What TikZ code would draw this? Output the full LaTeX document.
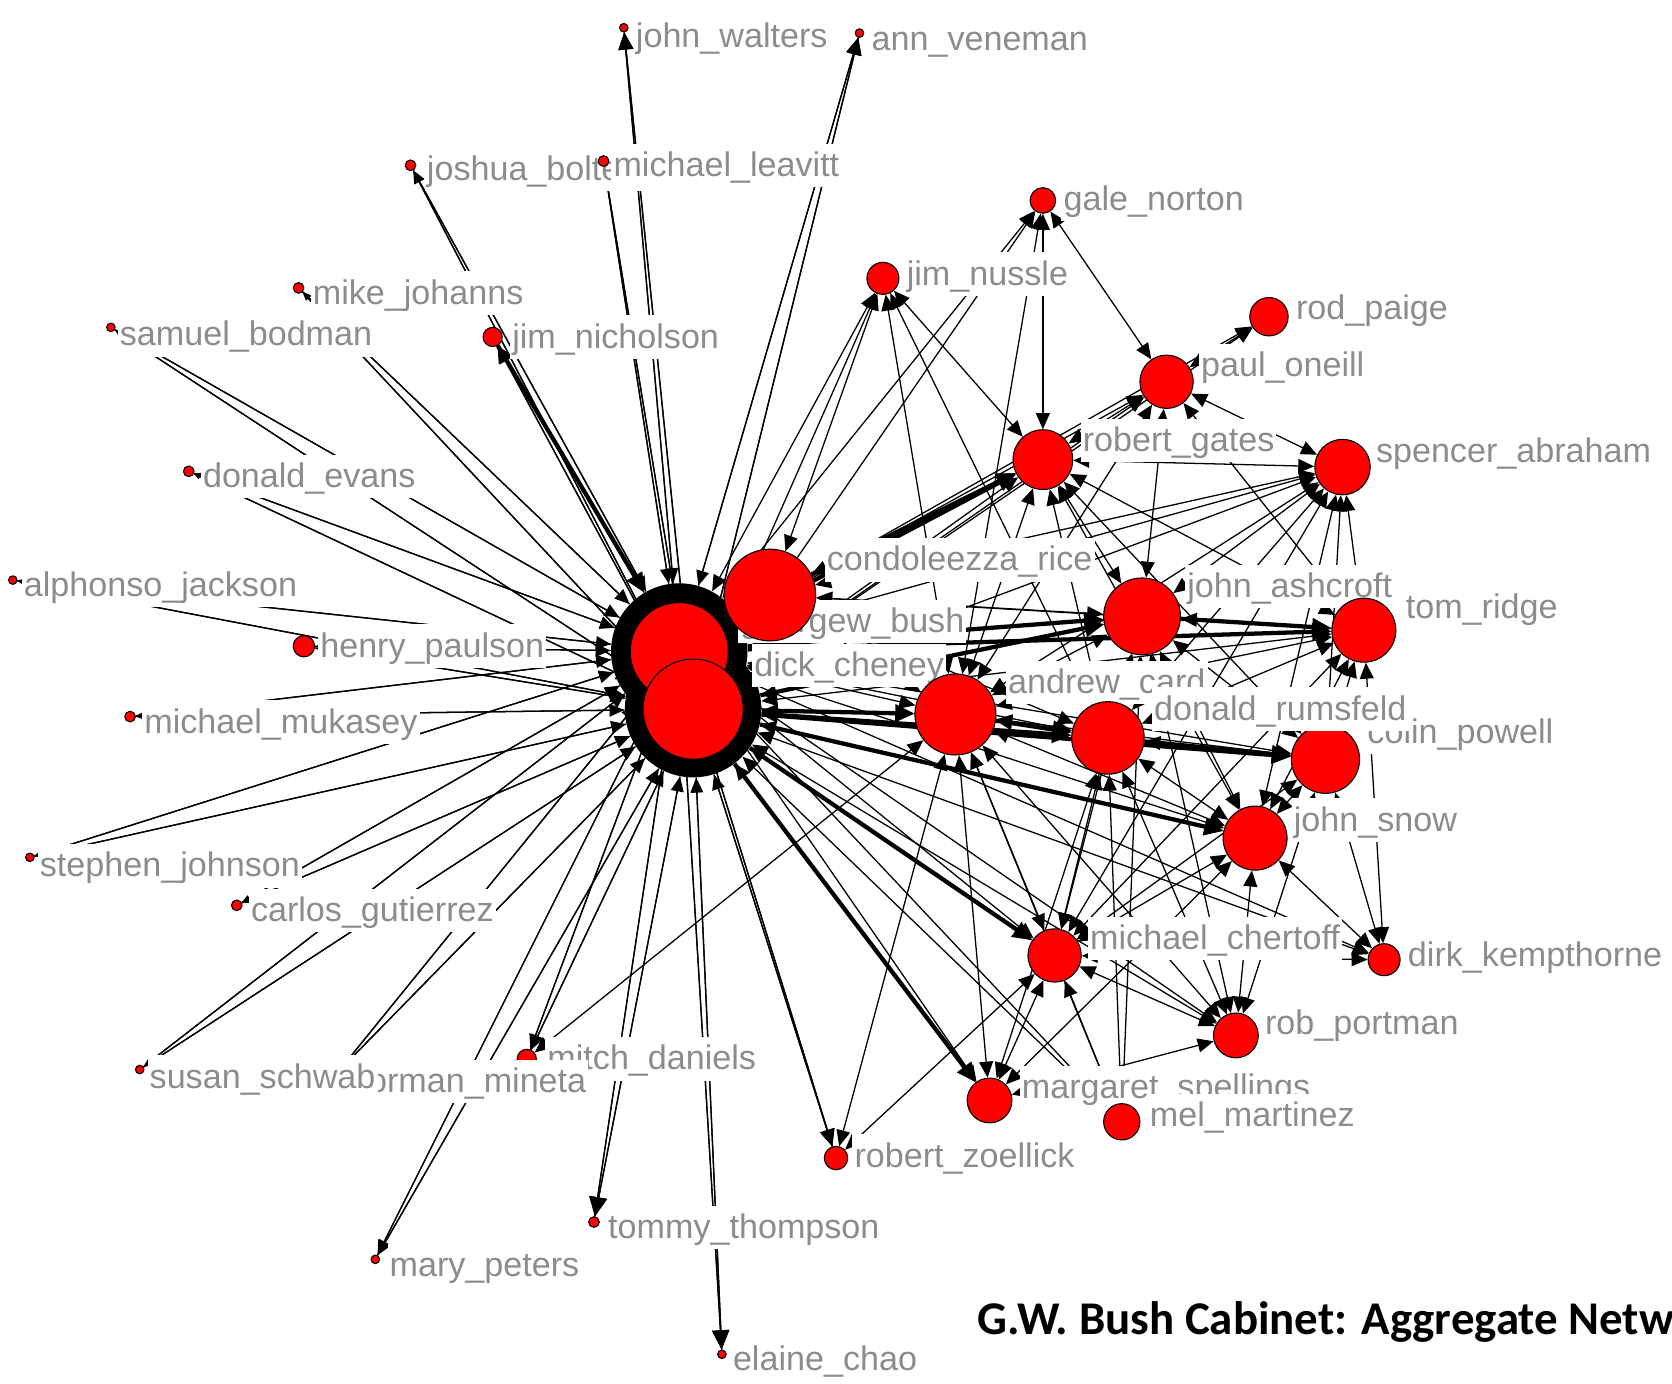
\documentclass[tikz,border=0pt]{standalone}
\usepackage{fontspec}
\usetikzlibrary{arrows.meta}
\newfontfamily\labelfont{Liberation Sans}
\newfontfamily\titlefont{Carlito}
\definecolor{labgray}{RGB}{140,140,140}
\definecolor{vred}{RGB}{255,0,0}
\pgfdeclarelayer{edgelayer}
\pgfsetlayers{edgelayer,main}
% actor: name, x, y, radius, label x, label y, label text
\newcommand\cabnode[7]{%
  \node[vtx=#4] (#1) at (#2,#3) {};
  \node[lab] (#1-l) at (#5-2,#6) {#7};}
\begin{document}
\begin{tikzpicture}[x=0.5pt,y=-0.5pt,
  vtx/.style={circle,draw=black,line width=0.5pt,fill=vred,inner sep=0pt,minimum size=#1pt},
  hub/.style={circle,fill=black,inner sep=0pt,minimum size=#1pt},
  lab/.style={anchor=west,fill=white,text=labgray,inner xsep=1pt,inner ysep=1pt,
    font=\labelfont\fontsize{16}{18}\selectfont,text height=14.4pt,text depth=4pt},
  tie/.style={line width=0.6pt},
  heavy/.style={line width=2pt,-{Triangle[length=9pt,width=8pt]}},
  mutual/.style={{Triangle[length=7.5pt,width=6.5pt]}-{Triangle[length=7.5pt,width=6.5pt]}},
  inward/.style={-{Triangle[length=7pt,width=6pt]}}]
\useasboundingbox (0,0) rectangle (1568,1297);
\clip (0,0) rectangle (1568,1297);

% outer actors
\cabnode{jw}{585}{26}{4}{596}{34}{john\_walters}
\cabnode{av}{806}{31}{4}{817}{37}{ann\_veneman}
\cabnode{gn}{978}{188}{12}{997}{187}{gale\_norton}
\cabnode{jnu}{828}{261}{15}{850}{257}{jim\_nussle}
\cabnode{rpa}{1190}{297}{18}{1215}{289}{rod\_paige}
\cabnode{mj}{280}{270}{5}{293}{275}{mike\_johanns}
\cabnode{sb}{104}{307}{4}{112}{314}{samuel\_bodman}
\cabnode{jni}{462}{316}{9}{480}{316}{jim\_nicholson}
\cabnode{po}{1094}{358}{25}{1126}{343}{paul\_oneill}
\cabnode{rg}{978}{431}{28}{1015}{413}{robert\_gates}
\cabnode{sa}{1259}{438}{26}{1290}{423}{spencer\_abraham}
\cabnode{de}{177}{442}{5}{190}{447}{donald\_evans}
\cabnode{aj}{12}{544}{4}{22}{549}{alphonso\_jackson}
\cabnode{hp}{285}{606}{10}{300}{606}{henry\_paulson}
\cabnode{mmu}{122}{672}{5}{135}{677}{michael\_mukasey}
\cabnode{sj}{28}{804}{4}{37}{812}{stephen\_johnson}
\cabnode{cg}{222}{849}{5}{235}{854}{carlos\_gutierrez}
\cabnode{rz}{784}{1086}{11}{801}{1084}{robert\_zoellick}
\cabnode{tt}{557}{1146}{5}{570}{1151}{tommy\_thompson}
\cabnode{mp}{352}{1181}{4}{365}{1187}{mary\_peters}
\cabnode{ec}{677}{1270}{4}{687}{1275}{elaine\_chao}

% the two hubs with their crowded arrowheads
\node[hub=64] (gbr) at (637,611) {};
\node[hub=64] (dcr) at (650,665) {};
\cabnode{gb}{637}{611}{46}{694}{583}{georgew\_bush}
\cabnode{cr}{722}{558}{43}{775}{525}{condoleezza\_rice}
\cabnode{dc}{650}{665}{47}{707}{624}{dick\_cheney}

% inner circle
\cabnode{ja}{1071}{578}{36}{1113}{550}{john\_ashcroft}
\cabnode{tr}{1279}{591}{30}{1318}{570}{tom\_ridge}
\cabnode{ac}{896}{670}{38}{945}{640}{andrew\_card}
\cabnode{cp}{1243}{712}{32}{1282}{687}{colin\_powell}
\cabnode{dr}{1039}{692}{34}{1082}{665}{donald\_rumsfeld}
\cabnode{js}{1177}{786}{30}{1213}{769}{john\_snow}
\cabnode{mc}{989}{896}{25}{1022}{880}{michael\_chertoff}
\cabnode{dk}{1298}{900}{15}{1320}{896}{dirk\_kempthorne}
\cabnode{rpo}{1159}{971}{21}{1186}{960}{rob\_portman}
\cabnode{ms}{928}{1032}{21}{958}{1020}{margaret\_spellings}
\cabnode{mma}{1052}{1052}{17}{1078}{1046}{mel\_martinez}
\cabnode{md}{494}{993}{9}{513}{993}{mitch\_daniels}
\cabnode{nm}{318}{1004}{4}{327}{1014}{norman\_mineta}
\cabnode{ss}{131}{1003}{4}{140}{1010}{susan\_schwab}
\cabnode{jb}{385}{155}{5}{400}{159}{joshua\_bolten}
\cabnode{ml}{566}{151}{5}{575}{155}{michael\_leavitt}

\node[anchor=west,inner sep=0pt,font=\titlefont\bfseries\fontsize{22}{26}\selectfont]
  (title) at (916,1240) {G.W. Bush Cabinet: Aggregate Network};

\begin{pgfonlayer}{edgelayer}
% ties from the two hubs to the outer actors
\foreach \p/\tl/\tw in {jw/8/7, av/8/7, jb/6/5, ml/4/3, mj/4/3, sb/3/2.5,
    jni/8/7, de/3/2.5, aj/3/2.5, hp/5/4, mmu/4/3, sj/3/2.5, cg/4/3, ss/4/3,
    nm/3/2.5, md/7/6, mp/7/6, tt/9/8, ec/9/8, rz/8/7}{
  \draw[tie,-{Triangle[length=\tl pt,width=\tw pt]}] (gbr) -- (\p);
  \draw[tie,-{Triangle[length=\tl pt,width=\tw pt]}] (dcr) -- (\p);
  \draw[tie,inward] (\p) -- (gbr);
  \draw[tie,inward] (\p) -- (dcr);
}
% ties from the hubs into the inner circle
\foreach \p in {cr, ac, ja, tr, dr, cp, js, mc, dk, rpo, ms, mma, rg, sa, rpa,
    jnu, gn, po}{
  \draw[tie,mutual] (gbr) -- (\p);
  \draw[tie,mutual] (dcr) -- (\p);
}
% ties among the inner circle
\foreach \a/\b in {jnu/cr, jnu/rg, jnu/ac, jnu/dr, gn/po, gn/ac, gn/rg,
    po/rpa, po/rg, po/sa, po/ja, po/tr, po/ac,
    rg/sa, rg/ja, rg/ac, rg/dr, rg/cr, rg/tr, rg/cp, rg/js,
    sa/ja, sa/tr, sa/cp, sa/ac, sa/dr, sa/js, sa/cr, sa/mc,
    cr/ja, cr/tr, cr/ac, cr/dr,
    ja/tr, ja/dr, ja/cp, ja/ac, ja/js, ja/mc, ja/rpo, ja/mma,
    tr/cp, tr/dr, tr/js, tr/ac, tr/mc, tr/dk,
    ac/dr, ac/cp, ac/js, ac/mc, ac/ms, ac/rpo, ac/rz, ac/mma,
    dr/cp, dr/js, dr/mc, dr/ms, dr/rpo, dr/mma,
    cp/js, cp/mc, cp/dk, cp/rpo,
    js/mc, js/rpo, js/dk, js/ms,
    mc/ms, mc/rpo, mc/mma, mc/dk, mc/rz, ms/rpo, md/ac}{
  \draw[tie,mutual] (\a) -- (\b);
}
% strongest ties
\foreach \a/\b in {dcr/ac, dcr/dr, dcr/cp, dcr/js, gbr/ja, dcr/ja, gbr/tr,
    ja/tr, dr/cp, ac/dr, dcr/ms, dcr/mc, cr/rg, gbr/rg, jni/gbr}{
  \draw[heavy] (\a) -- (\b);
}
\end{pgfonlayer}
\end{tikzpicture}
\end{document}
